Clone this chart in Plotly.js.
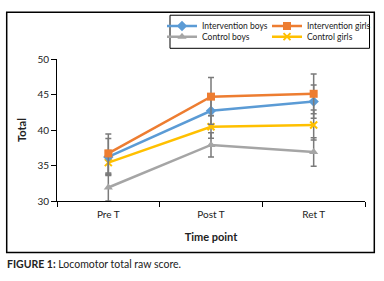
<!DOCTYPE html>
<html>
<head>
<meta charset="utf-8">
<script src="https://cdn.plot.ly/plotly-3.0.1.min.js"></script>
<style>html,body{margin:0;padding:0;background:#fff;}#chart{width:384px;height:281px;}</style>
</head>
<body>
<div id="chart"></div>
<script>
// ---- data ----
var categories = ['Pre T', 'Post T', 'Ret T'];
var interventionBoys = [36.2, 42.7, 44.0];
var interventionBoysErr = [2.6, 1.9, 2.35];
var interventionGirls = [36.7, 44.7, 45.1];
var interventionGirlsErr = [2.75, 2.7, 2.8];
var controlBoys = [31.9, 37.9, 36.9];
var controlBoysErr = [1.9, 1.7, 2.0];
var controlGirls = [35.4, 40.45, 40.7];
var controlGirlsErr = [1.7, 1.6, 2.1];
var yTicks = [30, 35, 40, 45, 50];

// ---- layout helpers (pixel -> paper) ----
var W = 384, H = 281, ML = 57, MR = 19, MT = 55, MB = 80;
var PW = W - ML - MR, PH = H - MT - MB;
function px(x) { return (x - ML) / PW; }
function py(y) { return (H - MB - y) / PH; }

var FONT = 'Lato, "Open Sans", sans-serif';
var errStyle = {type: 'data', visible: true, color: '#7a7a7a', thickness: 1.5, width: 3};

function mk(name, y, err, color, symbol, size, legend) {
  return {
    type: 'scatter', mode: 'lines+markers', name: name,
    x: categories, y: y,
    error_y: Object.assign({array: err}, errStyle),
    line: {color: color, width: 2.5},
    marker: {color: color, symbol: symbol, size: size, line: {color: color, width: symbol === 'x-thin' ? 2 : 0}},
    legend: legend
  };
}

var data = [
  mk('Control boys', controlBoys, controlBoysErr, '#A5A5A5', 'triangle-up', 8, 'legend2'),
  mk('Control girls', controlGirls, controlGirlsErr, '#FFC000', 'x-thin', 7, 'legend2'),
  mk('Intervention boys', interventionBoys, interventionBoysErr, '#5B9BD5', 'diamond', 8, 'legend'),
  mk('Intervention girls', interventionGirls, interventionGirlsErr, '#ED7D31', 'square', 8, 'legend')
];

var legendCommon = {
  orientation: 'h', xanchor: 'left', yanchor: 'middle',
  bgcolor: 'rgba(0,0,0,0)', borderwidth: 0,
  font: {family: FONT, size: 8.5, color: '#222'},
  entrywidth: 60, entrywidthmode: 'pixels',
  traceorder: 'normal', itemclick: false
};

var layout = {
  width: W, height: H,
  margin: {l: ML, r: MR, t: MT, b: MB, pad: 0},
  paper_bgcolor: '#fff', plot_bgcolor: '#fff',
  font: {family: FONT, color: '#222'},
  showlegend: true,
  legend: Object.assign({}, legendCommon, {x: px(162), y: py(21)}),
  legend2: Object.assign({}, legendCommon, {x: px(162), y: py(32)}),
  xaxis: {
    type: 'category', range: [-0.5, 2.5],
    showline: true, linecolor: '#000', linewidth: 1,
    ticks: 'outside', ticklen: 5, tickcolor: '#000', tickwidth: 1,
    tickson: 'boundaries', showgrid: false, zeroline: false,
    ticklabelstandoff: 4,
    tickfont: {family: FONT, size: 10, color: '#222'},
    title: {text: '<b>Time point</b>', font: {family: FONT, size: 11, color: '#222'}, standoff: 14},
    automargin: false, fixedrange: true
  },
  yaxis: {
    range: [30, 50], tickvals: yTicks,
    showline: true, linecolor: '#000', linewidth: 1,
    ticks: 'outside', ticklen: 5, tickcolor: '#000', tickwidth: 1,
    showgrid: false, zeroline: false,
    tickfont: {family: FONT, size: 10, color: '#222'},
    title: {text: '<b>Total</b>', font: {family: FONT, size: 11, color: '#222'}, standoff: 8},
    automargin: false, fixedrange: true
  },
  shapes: [
    {type: 'rect', xref: 'paper', yref: 'paper', x0: px(6.7), x1: px(374.3), y0: py(254), y1: py(7),
     line: {color: '#000', width: 1.5}, fillcolor: 'rgba(0,0,0,0)', layer: 'below'},
    {type: 'rect', xref: 'paper', yref: 'paper', x0: px(170), x1: px(369.5), y0: py(44), y1: py(10),
     line: {color: '#000', width: 1}, fillcolor: 'rgba(0,0,0,0)', layer: 'below'}
  ],
  annotations: [
    {xref: 'paper', yref: 'paper', x: px(5), y: py(266), xanchor: 'left', yanchor: 'middle',
     showarrow: false, text: '<b>FIGURE 1:</b> Locomotor total raw score.',
     font: {family: FONT, size: 10.5, color: '#222'}}
  ]
};

Plotly.newPlot('chart', data, layout, {displayModeBar: false, staticPlot: true});
</script>
</body>
</html>
